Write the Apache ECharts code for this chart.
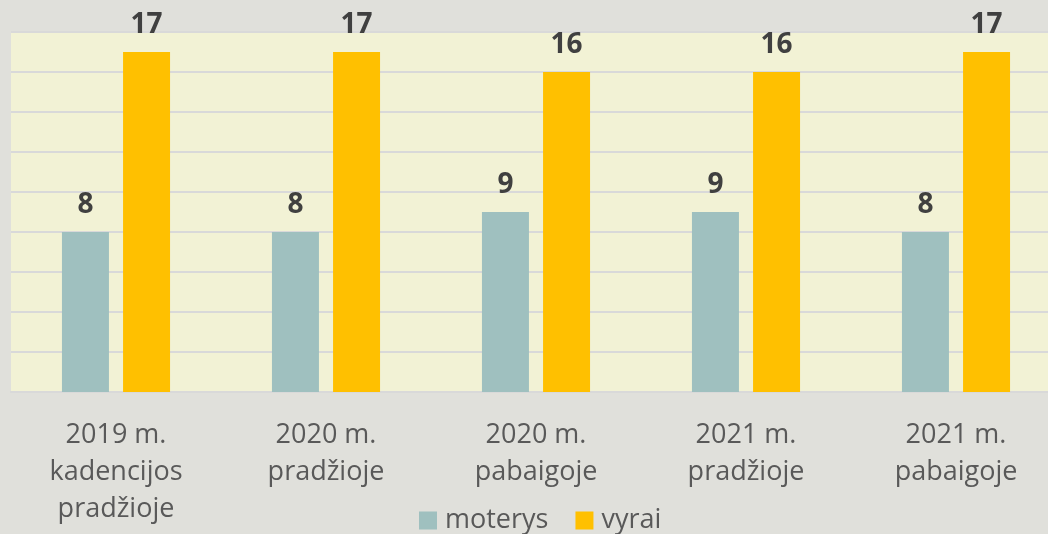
<!DOCTYPE html>
<html>
<head>
<meta charset="utf-8">
<script src="https://cdn.jsdelivr.net/npm/echarts@6/dist/echarts.min.js"></script>
<style>
  html, body { margin: 0; padding: 0; background: #e0e0db; overflow: hidden; }
  #main { width: 1061px; height: 534px; }
</style>
</head>
<body>
<div id="main"></div>
<script>
// duomenys
const categories = [
  '2019 m.\nkadencijos\npradžioje',
  '2020 m.\npradžioje',
  '2020 m.\npabaigoje',
  '2021 m.\npradžioje',
  '2021 m.\npabaigoje'
];
const moterys = [8, 8, 9, 9, 8];
const vyrai = [17, 17, 16, 16, 17];

const dom = document.getElementById('main');
const myChart = echarts.init(dom, null, { renderer: 'canvas' });

const labelStyle = {
  show: true,
  position: 'top',
  distance: 13,
  fontFamily: 'Open Sans',
  fontWeight: 'bold',
  fontSize: 28,
  color: '#404040'
};

myChart.setOption({
  backgroundColor: '#e0e0db',
  animation: false,
  textStyle: { fontFamily: 'Open Sans' },
  legend: {
    bottom: -5,
    left: 414,
    itemWidth: 18,
    itemHeight: 18,
    itemGap: 27,
    icon: 'rect',
    textStyle: {
      fontSize: 27,
      color: '#595959',
      fontFamily: 'Open Sans',
      padding: [0, 0, 0, 3]
    },
    data: ['moterys', 'vyrai']
  },
  grid: {
    show: true,
    backgroundColor: '#f2f2d5',
    borderWidth: 0,
    left: 11,
    top: 32,
    right: 0,
    height: 360,
    containLabel: false
  },
  xAxis: {
    type: 'category',
    data: categories,
    axisLine: { lineStyle: { color: '#d9d9d9', width: 2 } },
    axisTick: { show: false },
    axisLabel: {
      interval: 0,
      margin: 25,
      fontSize: 27,
      lineHeight: 37,
      color: '#595959',
      fontFamily: 'Open Sans'
    }
  },
  yAxis: {
    type: 'value',
    min: 0,
    max: 18,
    interval: 2,
    axisLine: { show: false },
    axisTick: { show: false },
    axisLabel: { show: false },
    splitLine: { lineStyle: { color: '#d9d9d9', width: 2 } }
  },
  series: [
    {
      name: 'moterys',
      type: 'bar',
      data: moterys,
      barWidth: 47,
      barGap: '30%',
      itemStyle: { color: '#9fc0bf' },
      label: labelStyle
    },
    {
      name: 'vyrai',
      type: 'bar',
      data: vyrai,
      barWidth: 47,
      itemStyle: { color: '#ffc000' },
      label: labelStyle
    }
  ]
});
</script>
</body>
</html>
